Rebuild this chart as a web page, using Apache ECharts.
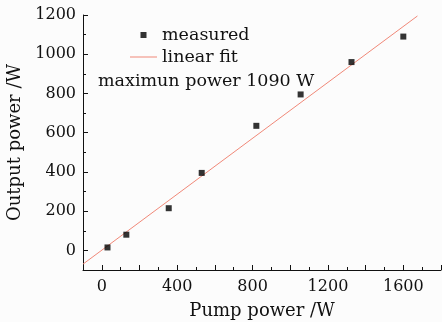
<!DOCTYPE html>
<html>
<head>
<meta charset="utf-8">
<script src="https://cdn.jsdelivr.net/npm/echarts@6/dist/echarts.min.js"></script>
<style>
  html, body { margin: 0; padding: 0; background: #fcfcfc; }
  #chart { width: 442px; height: 322px; }
</style>
</head>
<body>
<div id="chart"></div>
<script>
// measured points
const pumpPower = [30, 130, 355, 530, 820, 1055, 1325, 1600];
const outputPower = [15, 80, 215, 395, 635, 795, 960, 1090];

// ends of the linear fit line
const fitX = [-100, 1675];
const fitY = [-70, 1195];

// tick values
const xLabels = [0, 400, 800, 1200, 1600];
const xMajorTicks = [0, 200, 400, 600, 800, 1000, 1200, 1400, 1600, 1800];
const xMinorTicks = [-100, 100, 300, 500, 700, 900, 1100, 1300, 1500, 1700];
const yMajorTicks = [0, 200, 400, 600, 800, 1000, 1200];
const yMinorTicks = [-100, 100, 300, 500, 700, 900, 1100];

const FONT = 'DejaVu Serif';

const chart = echarts.init(document.getElementById('chart'));

const mainAxis = (labels, ticks) => ({
  type: 'value',
  axisLine: { show: true, onZero: false, lineStyle: { color: '#111', width: 1 } },
  axisTick: { show: true, inside: true, length: 5, customValues: ticks, lineStyle: { color: '#111' } },
  axisLabel: { customValues: labels, color: '#111', fontFamily: FONT, fontSize: 16, formatter: (v) => String(v) },
  splitLine: { show: false }
});

const minorAxis = (ticks) => ({
  type: 'value',
  axisLine: { show: false, onZero: false },
  axisTick: { show: true, inside: true, length: 3, customValues: ticks, lineStyle: { color: '#111' } },
  axisLabel: { show: false },
  splitLine: { show: false }
});

const xMain = mainAxis(xLabels, xMajorTicks);
xMain.min = -100;
xMain.max = 1800;
xMain.position = 'bottom';
xMain.axisLabel.margin = 9;
xMain.name = 'Pump power /W';
xMain.nameLocation = 'middle';
xMain.nameGap = 32;
xMain.nameTextStyle = { color: '#111', fontFamily: FONT, fontSize: 18 };

const xMinor = minorAxis(xMinorTicks);
xMinor.min = -100;
xMinor.max = 1800;
xMinor.position = 'bottom';

const yMain = mainAxis(yMajorTicks, yMajorTicks);
yMain.min = -100;
yMain.max = 1200;
yMain.position = 'left';
yMain.axisLabel.margin = 7;
yMain.name = 'Output power /W';
yMain.nameLocation = 'middle';
yMain.nameGap = 57;
yMain.nameTextStyle = { color: '#111', fontFamily: FONT, fontSize: 18 };

const yMinor = minorAxis(yMinorTicks);
yMinor.min = -100;
yMinor.max = 1200;
yMinor.position = 'left';

chart.setOption({
  backgroundColor: '#fcfcfc',
  animation: false,
  grid: { left: 83, right: 1, top: 15, bottom: 52, outerBoundsMode: 'none', containLabel: false },
  xAxis: [xMain, xMinor],
  yAxis: [yMain, yMinor],
  legend: {
    orient: 'vertical',
    left: 130,
    top: 24,
    padding: 0,
    itemWidth: 27,
    itemHeight: 6,
    itemGap: 0,
    textStyle: { color: '#111', fontFamily: FONT, fontSize: 17.5, lineHeight: 22 },
    data: [
      { name: 'measured', icon: 'path://M0,0M27,6M10.5,0h6v6h-6z' },
      { name: 'linear fit', icon: 'path://M0,0M27,6M0,2.5h27v1h-27z' }
    ]
  },
  graphic: [{
    type: 'text',
    left: 98,
    top: 72,
    style: { text: 'maximun power 1090 W', fill: '#111', font: '17.5px "DejaVu Serif"' }
  }],
  series: [
    {
      name: 'linear fit',
      type: 'line',
      symbol: 'none',
      lineStyle: { color: '#f08878', width: 1 },
      itemStyle: { color: '#f08878' },
      data: fitX.map((x, i) => [x, fitY[i]]),
      z: 1
    },
    {
      name: 'measured',
      type: 'scatter',
      symbol: 'rect',
      symbolSize: 6,
      itemStyle: { color: '#000' },
      data: pumpPower.map((x, i) => [x, outputPower[i]]),
      z: 3
    }
  ]
});
</script>
</body>
</html>
